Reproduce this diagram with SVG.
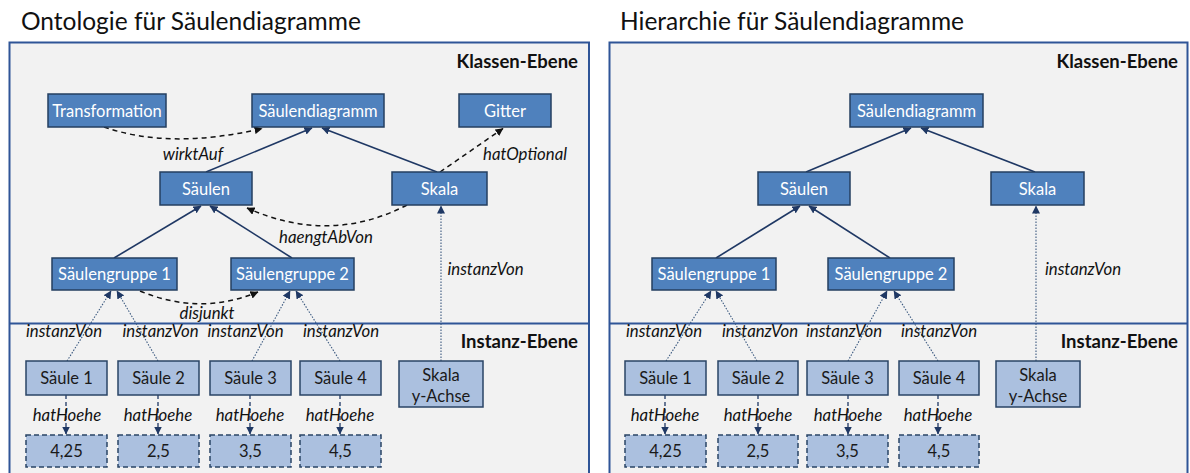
<svg xmlns="http://www.w3.org/2000/svg" width="1190" height="473" viewBox="0 0 1190 473">
  <style>
    text { font-family: Lato, "Liberation Sans", sans-serif; }
    .title { font-size: 24.5px; fill: #111; }
    .panel { fill: #f2f2f2; stroke: #2f5597; stroke-width: 2; }
    .sep { stroke: #2f5597; stroke-width: 2; }
    .level { font-size: 18.5px; font-weight: bold; text-anchor: end; fill: #111; }
    .cls rect { fill: #4f81bd; stroke: #243f60; stroke-width: 1.5; }
    .cls text { font-size: 16.5px; fill: #fff; text-anchor: middle; }
    .inst rect { fill: #abc0df; stroke: #2a4466; stroke-width: 1.5; }
    .inst text { font-size: 16.5px; fill: #1a1a1a; text-anchor: middle; }
    .val rect { stroke-dasharray: 5 3; }
    .lbl { font-size: 16.8px; font-style: italic; text-anchor: middle; fill: #111; }
    .edge { fill: none; stroke: #1f3864; stroke-width: 1.6; }
    .dash { fill: none; stroke: #111; stroke-width: 1.5; stroke-dasharray: 5 4; }
    .dot { fill: none; stroke: #3c5a80; stroke-width: 1.1; stroke-dasharray: 1.5 1.5; }
    .hh { fill: none; stroke: #1f3864; stroke-width: 1.3; stroke-dasharray: 4 3; }
  </style>
  <defs>
    <marker id="arr" viewBox="0 0 8 8" refX="7.5" refY="4" markerWidth="8" markerHeight="8" markerUnits="userSpaceOnUse" orient="auto">
      <path d="M0,0 L8,4 L0,8 z" fill="#1f3864"/>
    </marker>
    <marker id="arrK" viewBox="0 0 8 8" refX="7.5" refY="4" markerWidth="8" markerHeight="8" markerUnits="userSpaceOnUse" orient="auto">
      <path d="M0,0 L8,4 L0,8 z" fill="#111"/>
    </marker>
  </defs>

  <!-- Left panel: ontology -->
  <text class="title" x="21" y="29.5">Ontologie für Säulendiagramme</text>
  <rect class="panel" x="9.5" y="42.5" width="579.5" height="450"/>
  <line class="sep" x1="9.5" y1="323.5" x2="589" y2="323.5"/>
  <text class="level" x="578" y="68">Klassen-Ebene</text>
  <text class="level" x="578" y="348">Instanz-Ebene</text>

  <g id="l-edges">
    <path class="edge" d="M206,172 L312,128" marker-end="url(#arr)"/>
    <path class="edge" d="M437,172 L322,128" marker-end="url(#arr)"/>
    <path class="edge" d="M114,258 L201,206" marker-end="url(#arr)"/>
    <path class="edge" d="M292,258 L210,206" marker-end="url(#arr)"/>
    <path class="dash" d="M104,127 Q170,150 262,128.5" marker-end="url(#arrK)"/>
    <path class="dash" d="M440,172 L503,128.5" marker-end="url(#arrK)"/>
    <path class="dash" d="M407,205 Q330,245 247,208" marker-end="url(#arrK)"/>
    <path class="dash" d="M140,291 Q200,316 258,292" marker-end="url(#arrK)"/>
    <path class="dot" d="M441,361 L441,206" marker-end="url(#arr)"/>
    <path class="dot" d="M67,361 L111,291" marker-end="url(#arr)"/>
    <path class="dot" d="M158,361 L117,291" marker-end="url(#arr)"/>
    <path class="dot" d="M252,361 L290,291" marker-end="url(#arr)"/>
    <path class="dot" d="M340,361 L296,291" marker-end="url(#arr)"/>
    <path class="hh" d="M66,395 L66,434" marker-end="url(#arr)"/>
    <path class="hh" d="M158,395 L158,434" marker-end="url(#arr)"/>
    <path class="hh" d="M250,395 L250,434" marker-end="url(#arr)"/>
    <path class="hh" d="M340,395 L340,434" marker-end="url(#arr)"/>
    <text class="lbl" x="193" y="160">wirktAuf</text>
    <text class="lbl" x="525" y="160">hatOptional</text>
    <text class="lbl" x="326" y="243">haengtAbVon</text>
    <text class="lbl" x="207" y="319">disjunkt</text>
    <text class="lbl" x="485.5" y="275">instanzVon</text>
    <text class="lbl" x="64" y="337">instanzVon</text>
    <text class="lbl" x="160.5" y="337">instanzVon</text>
    <text class="lbl" x="245.5" y="337">instanzVon</text>
    <text class="lbl" x="341" y="337">instanzVon</text>
    <text class="lbl" x="67" y="421">hatHoehe</text>
    <text class="lbl" x="158" y="421">hatHoehe</text>
    <text class="lbl" x="250" y="421">hatHoehe</text>
    <text class="lbl" x="340" y="421">hatHoehe</text>
  </g>

  <g id="l-transformation" class="cls"><rect x="48" y="94" width="118" height="33"/><text x="107" y="116.5">Transformation</text></g>
  <g id="l-saeulendiagramm" class="cls"><rect x="252" y="94" width="132" height="33"/><text x="318" y="116.5">Säulendiagramm</text></g>
  <g id="l-gitter" class="cls"><rect x="459" y="94" width="92" height="33"/><text x="505" y="116.5">Gitter</text></g>
  <g id="l-saeulen" class="cls"><rect x="160" y="172" width="92" height="33"/><text x="206" y="194.5">Säulen</text></g>
  <g id="l-skala" class="cls"><rect x="392" y="172" width="95" height="33"/><text x="439.5" y="194.5">Skala</text></g>
  <g id="l-gruppe1" class="cls"><rect x="52" y="258" width="125" height="32"/><text x="114.5" y="280">Säulengruppe 1</text></g>
  <g id="l-gruppe2" class="cls"><rect x="231" y="258" width="123" height="32"/><text x="292.5" y="280">Säulengruppe 2</text></g>
  <g id="l-saeule1" class="inst"><rect x="26" y="361" width="81" height="34"/><text x="66.5" y="384">Säule 1</text></g>
  <g id="l-saeule2" class="inst"><rect x="118" y="361" width="81" height="34"/><text x="158.5" y="384">Säule 2</text></g>
  <g id="l-saeule3" class="inst"><rect x="210" y="361" width="81" height="34"/><text x="250.5" y="384">Säule 3</text></g>
  <g id="l-saeule4" class="inst"><rect x="300" y="361" width="81" height="34"/><text x="340.5" y="384">Säule 4</text></g>
  <g id="l-yachse" class="inst"><rect x="399" y="361" width="84" height="46"/><text x="441" y="381">Skala</text><text x="441" y="402">y-Achse</text></g>
  <g id="l-wert1" class="inst val"><rect x="26" y="435" width="81" height="32"/><text x="66.5" y="457">4,25</text></g>
  <g id="l-wert2" class="inst val"><rect x="118" y="435" width="81" height="32"/><text x="158.5" y="457">2,5</text></g>
  <g id="l-wert3" class="inst val"><rect x="210" y="435" width="81" height="32"/><text x="250.5" y="457">3,5</text></g>
  <g id="l-wert4" class="inst val"><rect x="300" y="435" width="81" height="32"/><text x="340.5" y="457">4,5</text></g>

  <!-- Right panel: hierarchy -->
  <text class="title" x="620" y="29.5">Hierarchie für Säulendiagramme</text>
  <rect class="panel" x="609.5" y="42.5" width="578" height="450"/>
  <line class="sep" x1="609.5" y1="323.5" x2="1187.5" y2="323.5"/>
  <text class="level" x="1178" y="68">Klassen-Ebene</text>
  <text class="level" x="1178" y="348">Instanz-Ebene</text>

  <g id="r-edges">
    <path class="edge" d="M806,172 L911,128" marker-end="url(#arr)"/>
    <path class="edge" d="M1035,172 L921,128" marker-end="url(#arr)"/>
    <path class="edge" d="M716,258 L800,206" marker-end="url(#arr)"/>
    <path class="edge" d="M890,258 L809,206" marker-end="url(#arr)"/>
    <path class="dot" d="M1036,361 L1036,206" marker-end="url(#arr)"/>
    <path class="dot" d="M666,361 L711,291" marker-end="url(#arr)"/>
    <path class="dot" d="M757,361 L716,291" marker-end="url(#arr)"/>
    <path class="dot" d="M848,361 L887,291" marker-end="url(#arr)"/>
    <path class="dot" d="M938,361 L894,291" marker-end="url(#arr)"/>
    <path class="hh" d="M665,395 L665,434" marker-end="url(#arr)"/>
    <path class="hh" d="M758,395 L758,434" marker-end="url(#arr)"/>
    <path class="hh" d="M848,395 L848,434" marker-end="url(#arr)"/>
    <path class="hh" d="M938,395 L938,434" marker-end="url(#arr)"/>
    <text class="lbl" x="1083" y="275">instanzVon</text>
    <text class="lbl" x="664" y="337">instanzVon</text>
    <text class="lbl" x="760" y="337">instanzVon</text>
    <text class="lbl" x="844" y="337">instanzVon</text>
    <text class="lbl" x="939" y="337">instanzVon</text>
    <text class="lbl" x="665" y="421">hatHoehe</text>
    <text class="lbl" x="758" y="421">hatHoehe</text>
    <text class="lbl" x="848" y="421">hatHoehe</text>
    <text class="lbl" x="938" y="421">hatHoehe</text>
  </g>

  <g id="r-saeulendiagramm" class="cls"><rect x="850" y="94" width="133" height="33"/><text x="916.5" y="116.5">Säulendiagramm</text></g>
  <g id="r-saeulen" class="cls"><rect x="758" y="172" width="92" height="33"/><text x="804" y="194.5">Säulen</text></g>
  <g id="r-skala" class="cls"><rect x="991" y="172" width="93" height="33"/><text x="1037.5" y="194.5">Skala</text></g>
  <g id="r-gruppe1" class="cls"><rect x="652" y="258" width="124" height="32"/><text x="714" y="280">Säulengruppe 1</text></g>
  <g id="r-gruppe2" class="cls"><rect x="828" y="258" width="126" height="32"/><text x="891" y="280">Säulengruppe 2</text></g>
  <g id="r-saeule1" class="inst"><rect x="625" y="361" width="81" height="34"/><text x="665.5" y="384">Säule 1</text></g>
  <g id="r-saeule2" class="inst"><rect x="718" y="361" width="80" height="34"/><text x="758" y="384">Säule 2</text></g>
  <g id="r-saeule3" class="inst"><rect x="807" y="361" width="81" height="34"/><text x="847.5" y="384">Säule 3</text></g>
  <g id="r-saeule4" class="inst"><rect x="899" y="361" width="80" height="34"/><text x="939" y="384">Säule 4</text></g>
  <g id="r-yachse" class="inst"><rect x="996" y="361" width="84" height="46"/><text x="1038" y="381">Skala</text><text x="1038" y="402">y-Achse</text></g>
  <g id="r-wert1" class="inst val"><rect x="625" y="435" width="81" height="32"/><text x="665.5" y="457">4,25</text></g>
  <g id="r-wert2" class="inst val"><rect x="718" y="435" width="80" height="32"/><text x="758" y="457">2,5</text></g>
  <g id="r-wert3" class="inst val"><rect x="807" y="435" width="81" height="32"/><text x="847.5" y="457">3,5</text></g>
  <g id="r-wert4" class="inst val"><rect x="899" y="435" width="80" height="32"/><text x="939" y="457">4,5</text></g>
</svg>
